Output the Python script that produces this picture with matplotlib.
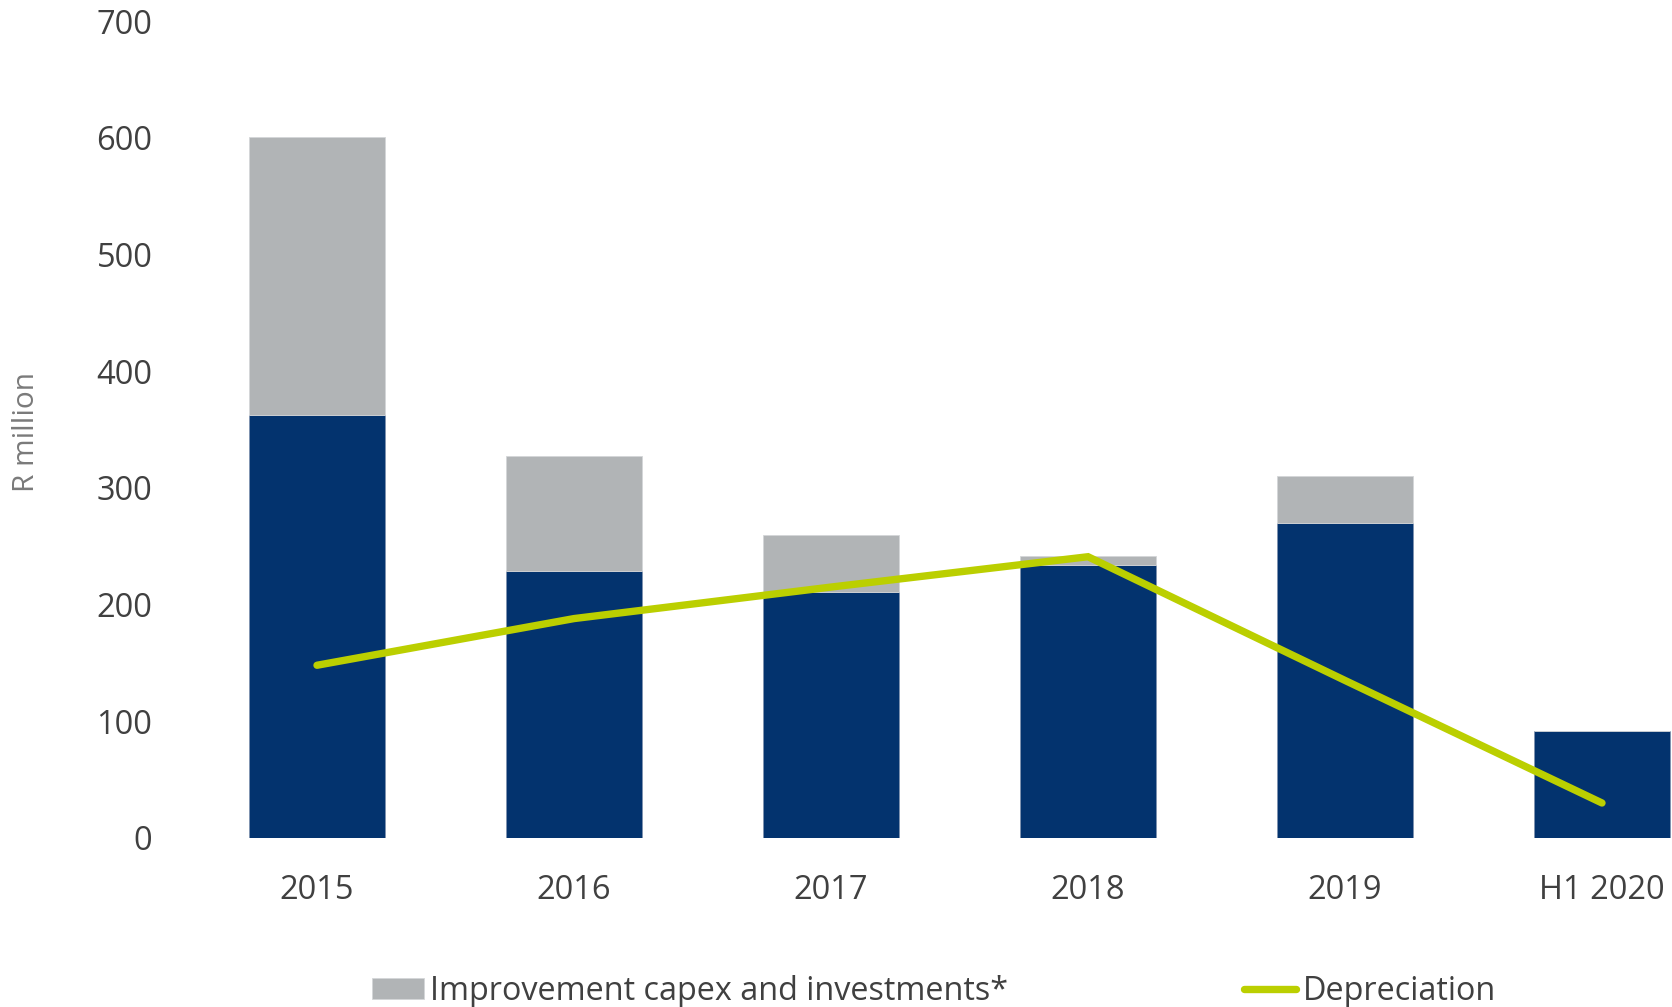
import matplotlib.pyplot as plt
import numpy as np

# R million per period
periods = ["2015", "2016", "2017", "2018", "2019", "H1 2020"]
maintenance = [362, 229, 211, 234, 270, 92]
improvement = [239, 98, 49, 7.5, 40, 0]
depreciation = [148, 188, 215, 241, 135, 30]

navy = "#03336e"
grey = "#b1b4b6"
lime = "#bbcf00"
text_col = "#404040"

plt.rcParams['font.family'] = ['Open Sans', 'DejaVu Sans']

fig = plt.figure(figsize=(16.72, 10.07), dpi=100)
ax = fig.add_axes([188.5 / 1672, 1 - 838 / 1007, 1542 / 1672, (838 - 21) / 1007])

x = np.arange(len(periods))
w = 0.527
ax.bar(x, maintenance, w, color=navy, edgecolor="#7f93b0", linewidth=0.6)
bars = ax.bar(x, improvement, w, bottom=maintenance, color=grey, edgecolor="#d4d6d8",
              linewidth=0.6)
line, = ax.plot(x, depreciation, color=lime, lw=5.3, solid_capstyle="round",
                solid_joinstyle="miter")

ax.set_xlim(-0.5, 5.5)
ax.set_ylim(0, 700)
ax.set_yticks(range(0, 701, 100))
ax.set_xticks(x)
ax.set_xticklabels(periods)
ax.tick_params(length=0, labelsize=23.5, labelcolor=text_col, pad=26)
for s in ax.spines.values():
    s.set_visible(False)

fig.text(27 / 1672, 1 - 432 / 1007, "R million", rotation=90, ha="center", va="center",
         fontsize=21.5, color="#7a7a7a")

fig.legend([bars, line], ["Improvement capex and investments*", "Depreciation"],
           loc="center", bbox_to_anchor=(0.5585, 0.0155), ncol=2, frameon=False,
           prop={'size': 23.3}, labelcolor=text_col, handlelength=1.6, handleheight=0.65,
           handletextpad=0.2, columnspacing=7.3, borderpad=0, borderaxespad=0)

fig.savefig("out.png", dpi=100)
